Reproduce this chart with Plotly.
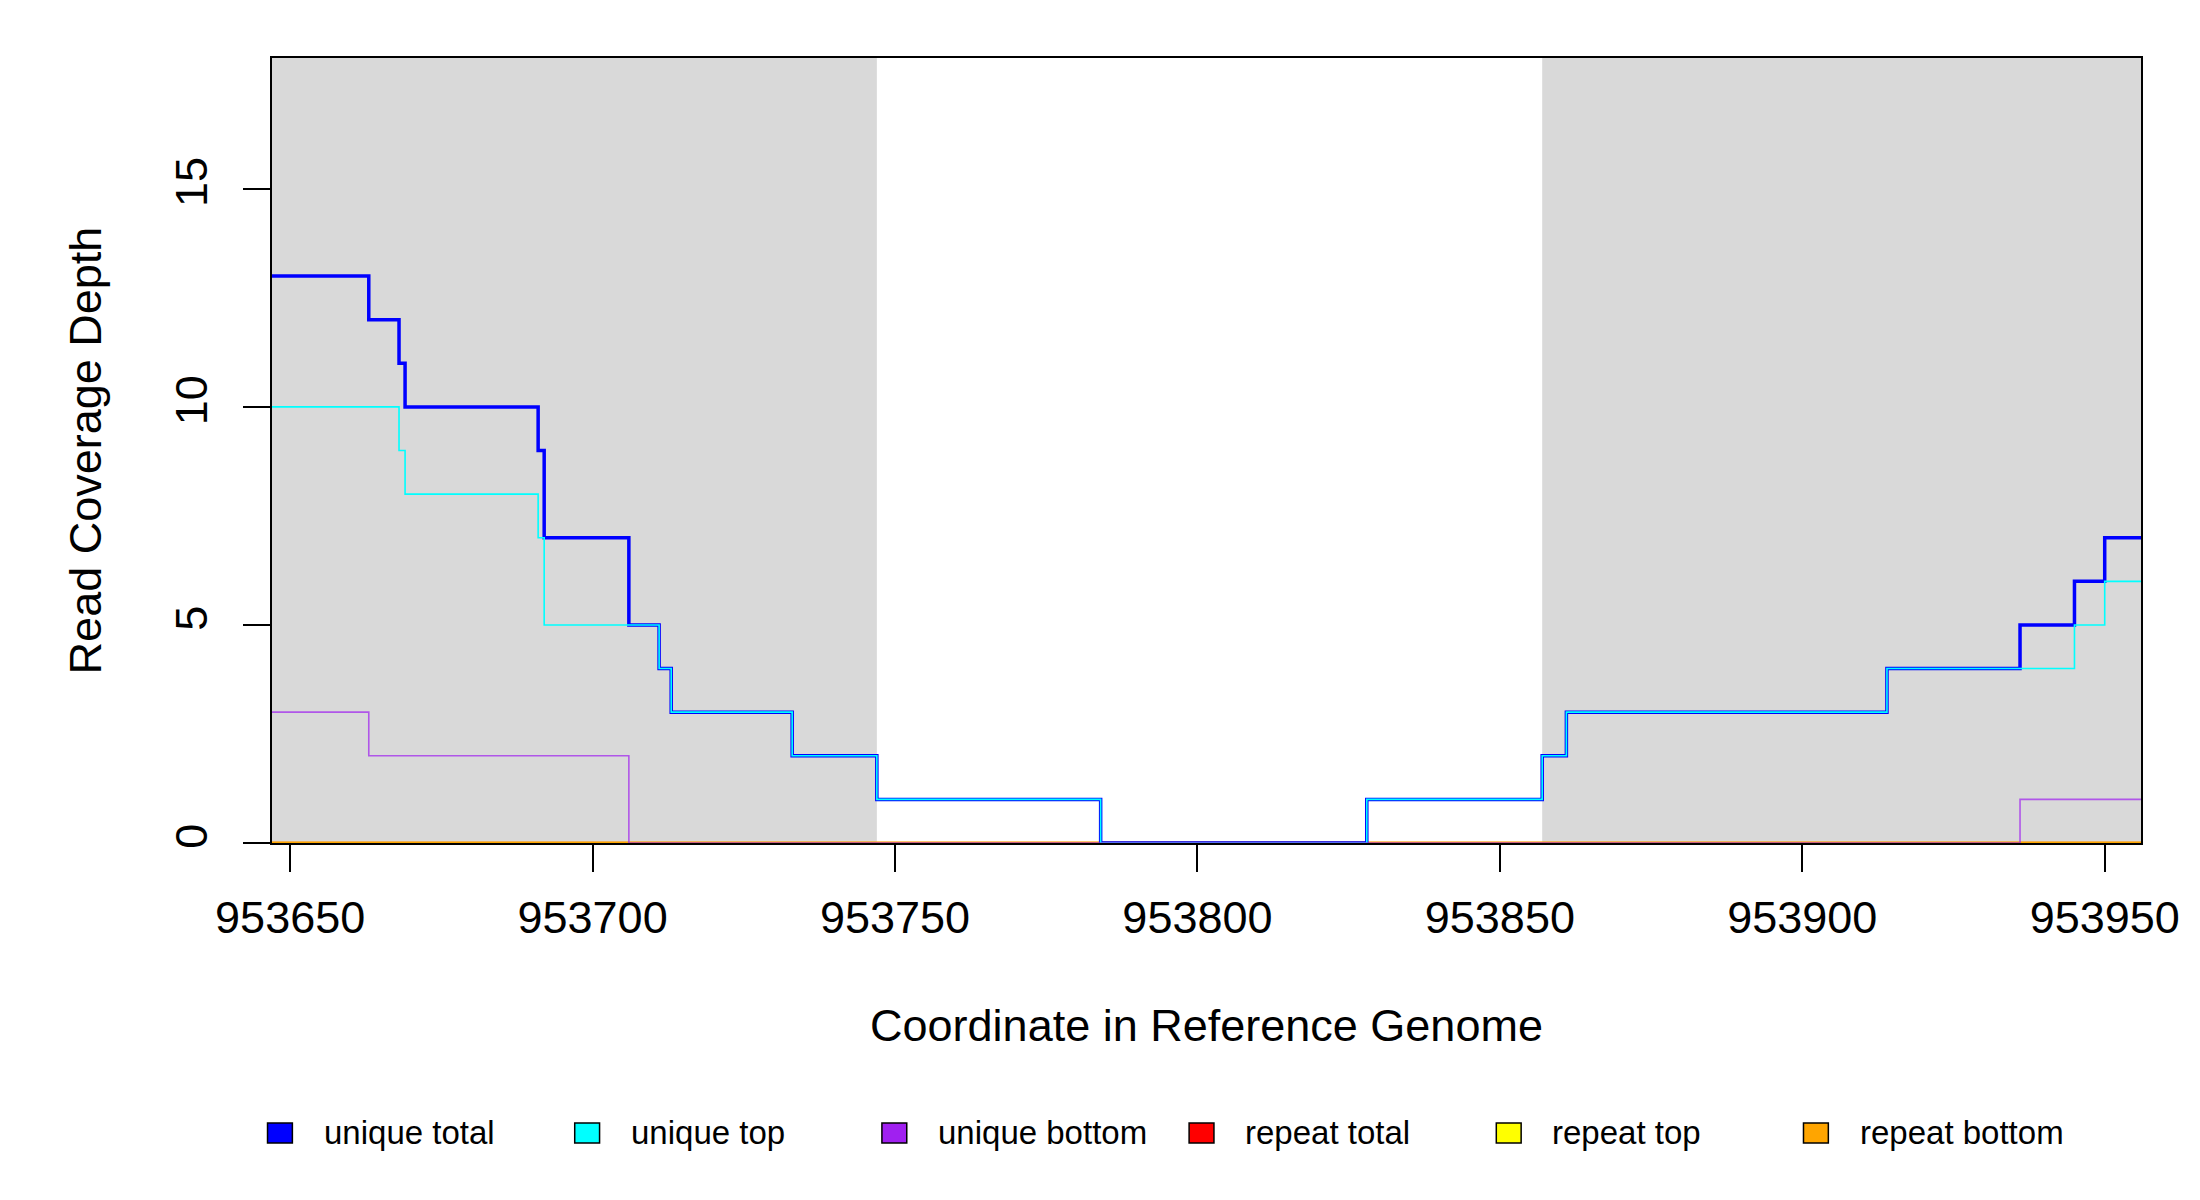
import plotly.graph_objects as go

# coverage steps: each value holds from its start position up to the next start
coord_end = 953956

unique_total_start = [953647, 953663, 953668, 953669, 953691, 953692, 953706, 953711, 953713, 953733,
                      953747, 953784, 953828, 953857, 953861, 953914, 953936, 953945, 953950]
unique_total_depth = [13, 12, 11, 10, 9, 7, 5, 4, 3, 2, 1, 0, 1, 2, 3, 4, 5, 6, 7]

unique_top_start = [953647, 953668, 953669, 953691, 953692, 953711, 953713, 953733, 953747, 953784,
                    953828, 953857, 953861, 953914, 953945, 953950]
unique_top_depth = [10, 9, 8, 7, 5, 4, 3, 2, 1, 0, 1, 2, 3, 4, 5, 6]

unique_bottom_start = [953647, 953663, 953706, 953936]
unique_bottom_depth = [3, 2, 0, 1]

repeat_total_start = [953647]
repeat_total_depth = [0]
repeat_top_start = [953647]
repeat_top_depth = [0]
repeat_bottom_start = [953647]
repeat_bottom_depth = [0]

# shaded (gray) regions
shade_start = [953647, 953857]
shade_end = [953747, 953956]

x_ticks = [953650, 953700, 953750, 953800, 953850, 953900, 953950]
y_ticks = [0, 5, 10, 15]

legend_names = ['unique total', 'unique top', 'unique bottom', 'repeat total', 'repeat top', 'repeat bottom']
legend_colors = ['#0000FF', '#00FFFF', '#A020F0', '#FF0000', '#FFFF00', '#FFA500']

FONT = 'Liberation Sans, Arial, sans-serif'
OFF = 8  # page body margin
W, H = 2200 - 2 * OFF, 1200 - 2 * OFF
L, T = 272 - OFF, 58 - OFF
R, B = W - (2152 - OFF), H - (843 - OFF)
PW, PH = W - L - R, H - T - B


def steps(start, depth):
    return list(start) + [coord_end], list(depth) + [depth[-1]]


fig = go.Figure()

# repeat lines first so the unique lines sit on top of them
series = [
    (repeat_total_start, repeat_total_depth, '#FF0000', 2.5, 1.0),
    (repeat_top_start, repeat_top_depth, '#FFFF00', 2.5, 1.0),
    (repeat_bottom_start, repeat_bottom_depth, '#FFA500', 2.5, 1.0),
    (unique_total_start, unique_total_depth, '#0000FF', 3.5, 1.0),
    (unique_top_start, unique_top_depth, '#00FFFF', 1.6, 1.0),
    (unique_bottom_start, unique_bottom_depth, '#A020F0', 1.6, 0.7),
]
for st, dp, col, wd, op in series:
    xs, ys = steps(st, dp)
    fig.add_trace(go.Scatter(x=xs, y=ys, mode='lines', line=dict(color=col, width=wd, shape='hv'),
                             opacity=op, showlegend=False, hoverinfo='skip'))

for s0, s1 in zip(shade_start, shade_end):
    fig.add_shape(type='rect', xref='x', yref='paper', x0=s0, x1=s1, y0=0, y1=1,
                  fillcolor='#D9D9D9', line_width=0, layer='below')


def px_x(px):
    return (px - OFF - L) / PW


def px_y(py):
    return (H - B - (py - OFF)) / PH


# legend row along the bottom
for i, (name, col) in enumerate(zip(legend_names, legend_colors)):
    cx = 280 + i * 309
    fig.add_shape(type='rect', xref='paper', yref='paper',
                  x0=px_x(cx - 12.5), x1=px_x(cx + 12.5), y0=px_y(1143), y1=px_y(1123),
                  fillcolor=col, line=dict(color='black', width=1.5))
    fig.add_annotation(x=px_x(cx + 42), y=px_y(1132), xref='paper', yref='paper', text=name,
                       showarrow=False, xanchor='left', yanchor='middle',
                       font=dict(family=FONT, size=33, color='black'))

fig.update_layout(
    width=W, height=H, autosize=False,
    margin=dict(l=L, r=R, t=T, b=B),
    plot_bgcolor='white', paper_bgcolor='white',
    font=dict(family=FONT, color='black'),
    showlegend=False,
)
fig.update_xaxes(range=[953647, coord_end], tickvals=x_ticks, ticktext=[str(v) for v in x_ticks],
                 ticks='outside', ticklen=27, tickwidth=1.5, tickcolor='black',
                 showline=True, mirror=True, linecolor='black', linewidth=1.5,
                 showgrid=False, zeroline=False, tickfont=dict(size=45), ticklabelstandoff=7,
                 title=dict(text='Coordinate in Reference Genome', font=dict(size=45), standoff=68))
fig.update_yaxes(range=[0, 18], tickvals=y_ticks, ticks='outside', ticklen=27, tickwidth=1.5,
                 tickcolor='black', showline=True, mirror=True, linecolor='black', linewidth=1.5,
                 showgrid=False, zeroline=False, tickfont=dict(size=45), tickangle=-90,
                 ticklabelstandoff=18,
                 title=dict(text='Read Coverage Depth', font=dict(size=45), standoff=51))

fig.write_html('out.html')
